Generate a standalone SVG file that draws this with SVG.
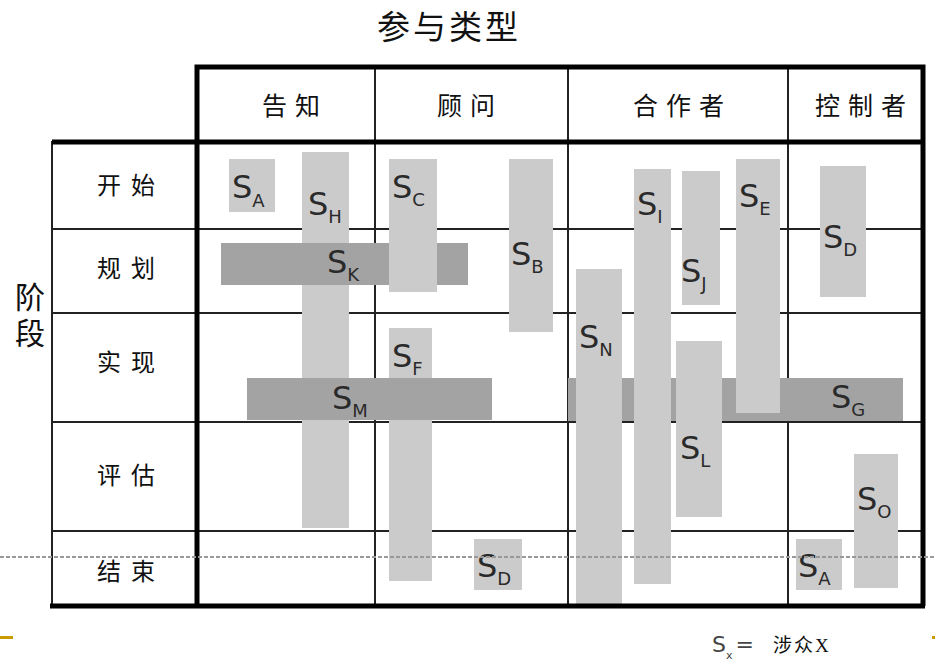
<svg xmlns="http://www.w3.org/2000/svg" width="935" height="669" viewBox="0 0 935 669">
<style>
.cjk{font-family:"Liberation Serif","Noto Sans CJK SC",serif;fill:#111}
.h{font-size:25px;letter-spacing:8px}
.r{font-size:24px;letter-spacing:10px}
.thin{stroke:#222;stroke-width:2;fill:none}
.thick{stroke:#000;stroke-width:5;fill:none}
.lt{fill:#cbcbcb}
.dk{fill:#a3a3a3}
.s{font-family:"DejaVu Sans",sans-serif;font-size:32px;fill:#2a2a2a}
.sub{font-size:18px}
</style>
<rect width="935" height="669" fill="#fff"/>
<text class="cjk" x="449" y="39" font-size="33" letter-spacing="3" text-anchor="middle">参与类型</text>
<g id="grid">
<line class="thin" x1="52" y1="141" x2="52" y2="606"/>
<line class="thin" x1="375" y1="67" x2="375" y2="606"/>
<line class="thin" x1="568" y1="67" x2="568" y2="606"/>
<line class="thin" x1="788" y1="67" x2="788" y2="606"/>
<line class="thin" x1="52" y1="229" x2="923" y2="229"/>
<line class="thin" x1="52" y1="313" x2="923" y2="313"/>
<line class="thin" x1="52" y1="422" x2="923" y2="422"/>
<line class="thin" x1="52" y1="531" x2="923" y2="531"/>
</g>
<g id="labels">
<text class="cjk h" x="262" y="115">告知</text>
<text class="cjk h" x="437" y="115">顾问</text>
<text class="cjk h" x="633" y="115">合作者</text>
<text class="cjk h" x="815" y="115">控制者</text>
<text class="cjk r" x="97" y="194">开始</text>
<text class="cjk r" x="97" y="277">规划</text>
<text class="cjk r" x="97" y="371">实现</text>
<text class="cjk r" x="97" y="484">评估</text>
<text class="cjk r" x="97" y="580">结束</text>
<text class="cjk" x="15" y="308" font-size="30">阶</text>
<text class="cjk" x="15" y="344" font-size="30">段</text>
</g>
<g id="SH"><rect class="lt" x="302" y="152" width="47" height="376"/><text class="s" x="308" y="215">S<tspan class="sub" dy="8">H</tspan></text></g>
<g id="SA1"><rect class="lt" x="229" y="159" width="46" height="53"/><text class="s" x="232" y="198">S<tspan class="sub" dy="9">A</tspan></text></g>
<g id="SK"><rect class="dk" x="221" y="243" width="247" height="42"/><text class="s" x="327" y="273">S<tspan class="sub" dy="8">K</tspan></text></g>
<g id="SC"><rect class="lt" x="389" y="159" width="48" height="133"/><text class="s" x="392" y="198">S<tspan class="sub" dy="8">C</tspan></text></g>
<g id="SF"><rect class="lt" x="389" y="328" width="43" height="253"/><text class="s" x="392" y="367">S<tspan class="sub" dy="8">F</tspan></text></g>
<g id="SM"><rect class="dk" x="247" y="378" width="245" height="42"/><text class="s" x="332" y="409">S<tspan class="sub" dy="8">M</tspan></text></g>
<g id="SB"><rect class="lt" x="509" y="159" width="44" height="173"/><text class="s" x="511" y="265">S<tspan class="sub" dy="8">B</tspan></text></g>
<g id="SD1"><rect class="lt" x="474" y="539" width="48" height="51"/><text class="s" x="477" y="577">S<tspan class="sub" dy="8">D</tspan></text></g>
<g id="SG"><rect class="dk" x="568" y="378" width="335" height="43"/><text class="s" x="831" y="408">S<tspan class="sub" dy="8">G</tspan></text></g>
<g id="SN"><rect class="lt" x="576" y="269" width="46" height="337"/><text class="s" x="579" y="348">S<tspan class="sub" dy="8">N</tspan></text></g>
<g id="SI"><rect class="lt" x="634" y="169" width="37" height="415"/><text class="s" x="637" y="215">S<tspan class="sub" dy="8">I</tspan></text></g>
<g id="SJ"><rect class="lt" x="682" y="171" width="38" height="134"/><text class="s" x="681" y="282">S<tspan class="sub" dy="8">J</tspan></text></g>
<g id="SL"><rect class="lt" x="676" y="341" width="46" height="176"/><text class="s" x="680" y="459">S<tspan class="sub" dy="8">L</tspan></text></g>
<g id="SE"><rect class="lt" x="736" y="159" width="44" height="254"/><text class="s" x="739" y="207">S<tspan class="sub" dy="8">E</tspan></text></g>
<g id="SD2"><rect class="lt" x="820" y="166" width="46" height="131"/><text class="s" x="823" y="248">S<tspan class="sub" dy="8">D</tspan></text></g>
<g id="SO"><rect class="lt" x="854" y="454" width="44" height="134"/><text class="s" x="857" y="510">S<tspan class="sub" dy="8">O</tspan></text></g>
<g id="SA2"><rect class="lt" x="796" y="539" width="46" height="51"/><text class="s" x="798" y="577">S<tspan class="sub" dy="8">A</tspan></text></g>
<g id="frame">
<polyline class="thick" points="197,606 197,67 923,67 923,606"/>
<line class="thick" x1="52" y1="142" x2="925" y2="142"/>
<line class="thick" x1="50" y1="606" x2="925" y2="606"/>
</g>
<line x1="0" y1="557" x2="935" y2="557" stroke="#999" stroke-width="2" stroke-dasharray="4 2"/>
<rect x="0" y="636" width="13" height="3" fill="#c89b00"/>
<rect x="932" y="636" width="3" height="3" fill="#c89b00"/>
<g id="legend">
<text x="712" y="652" font-family="DejaVu Sans,sans-serif" font-size="22" fill="#444">S<tspan font-size="11" dy="7">x</tspan><tspan dy="-7" dx="3">=</tspan></text>
<text class="cjk" x="773" y="652" font-size="19" letter-spacing="2">涉众X</text>
</g>
</svg>
